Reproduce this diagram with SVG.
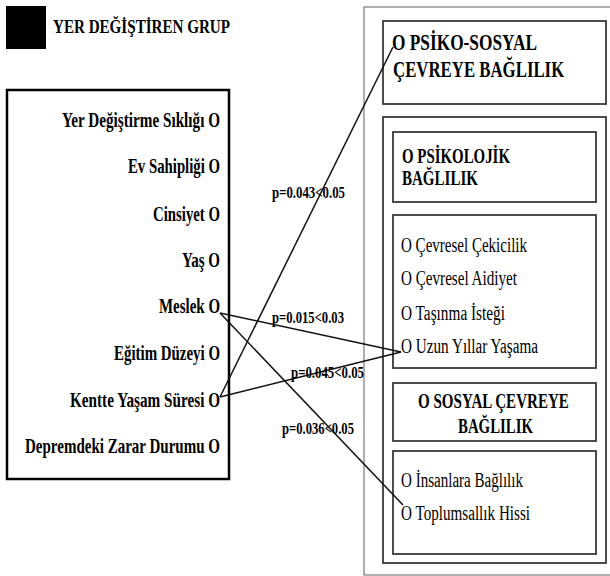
<svg xmlns="http://www.w3.org/2000/svg" width="610" height="576" viewBox="0 0 610 576">
<style>
text{font-family:"Liberation Serif","Times New Roman",serif;fill:#000}
.b{font-weight:bold}
.lbl{font-weight:bold;font-size:21px;text-anchor:end}
.item{font-size:20px}
.p{font-weight:bold;font-size:17px}
.box{fill:none;stroke:#3a3a3a;stroke-width:1.8}
.outer{fill:none;stroke:#7a7a7a;stroke-width:1.2}
.conn line{stroke:#111;stroke-width:1.5}
</style>
<rect width="610" height="576" fill="#fff"/>
<g id="legend">
<rect x="6" y="6" width="40" height="43" fill="#000"/>
<text class="b" x="53" y="33" font-size="19" textLength="177" lengthAdjust="spacingAndGlyphs">YER DEĞİŞTİREN GRUP</text>
</g>
<g id="group-variables">
<rect x="7" y="90" width="222" height="389" fill="none" stroke="#000" stroke-width="2.5"/>
<text class="lbl" x="220" y="127" textLength="158" lengthAdjust="spacingAndGlyphs">Yer Değiştirme Sıklığı O</text>
<text class="lbl" x="220" y="173" textLength="92" lengthAdjust="spacingAndGlyphs">Ev Sahipliği O</text>
<text class="lbl" x="220" y="221" textLength="67" lengthAdjust="spacingAndGlyphs">Cinsiyet O</text>
<text class="lbl" x="220" y="267" textLength="38" lengthAdjust="spacingAndGlyphs">Yaş O</text>
<text class="lbl" x="220" y="313" textLength="61" lengthAdjust="spacingAndGlyphs">Meslek O</text>
<text class="lbl" x="220" y="360" textLength="106" lengthAdjust="spacingAndGlyphs">Eğitim Düzeyi O</text>
<text class="lbl" x="220" y="407" textLength="150" lengthAdjust="spacingAndGlyphs">Kentte Yaşam Süresi O</text>
<text class="lbl" x="220" y="453" textLength="195" lengthAdjust="spacingAndGlyphs">Depremdeki Zarar Durumu O</text>
</g>
<g id="outer-frame">
<rect class="outer" x="364" y="7" width="260" height="568"/>
</g>
<g id="psiko-sosyal">
<rect class="box" x="383" y="21" width="223" height="83"/>
<text class="b" x="392" y="50" font-size="24" textLength="145" lengthAdjust="spacingAndGlyphs">O PSİKO-SOSYAL</text>
<g transform="translate(393,77) scale(0.70,1)"><text class="b" x="0" y="0" font-size="24">ÇEVREYE BAĞLILIK</text></g>
</g>
<g id="alt-boyutlar">
<rect class="box" x="383" y="117" width="223" height="446"/>
</g>
<g id="psikolojik">
<rect class="box" x="393" y="132" width="203" height="70"/>
<text class="b" x="402" y="163" font-size="20" textLength="108" lengthAdjust="spacingAndGlyphs">O PSİKOLOJİK</text>
<text class="b" x="402" y="185" font-size="20" textLength="76" lengthAdjust="spacingAndGlyphs">BAĞLILIK</text>
</g>
<g id="psikolojik-items">
<rect class="box" x="393" y="215" width="203" height="153"/>
<text class="item" x="401" y="252" textLength="126" lengthAdjust="spacingAndGlyphs">O Çevresel Çekicilik</text>
<text class="item" x="401" y="285" textLength="116" lengthAdjust="spacingAndGlyphs">O Çevresel Aidiyet</text>
<text class="item" x="401" y="320" textLength="104" lengthAdjust="spacingAndGlyphs">O Taşınma İsteği</text>
<text class="item" x="401" y="353" textLength="137" lengthAdjust="spacingAndGlyphs">O Uzun Yıllar Yaşama</text>
</g>
<g id="sosyal">
<rect class="box" x="393" y="383" width="203" height="58"/>
<g transform="translate(418,408) scale(0.717,1)"><text class="b" x="0" y="0" font-size="21">O SOSYAL ÇEVREYE</text></g>
<text class="b" x="458" y="433" font-size="21" textLength="75" lengthAdjust="spacingAndGlyphs">BAĞLILIK</text>
</g>
<g id="sosyal-items">
<rect class="box" x="393" y="451" width="203" height="103"/>
<text class="item" x="401" y="487" textLength="122" lengthAdjust="spacingAndGlyphs">O İnsanlara Bağlılık</text>
<text class="item" x="401" y="520" textLength="129" lengthAdjust="spacingAndGlyphs">O Toplumsallık Hissi</text>
</g>
<g id="connectors" class="conn">
<line x1="220" y1="397" x2="393" y2="47"/>
<line x1="220" y1="397" x2="401" y2="352"/>
<line x1="220" y1="313" x2="401" y2="352"/>
<line x1="220" y1="313" x2="403" y2="505"/>
</g>
<g id="p-values">
<text class="p" x="272" y="198" textLength="73" lengthAdjust="spacingAndGlyphs">p=0.043&lt;0.05</text>
<text class="p" x="272" y="323" textLength="72" lengthAdjust="spacingAndGlyphs">p=0.015&lt;0.03</text>
<text class="p" x="291" y="378" textLength="73" lengthAdjust="spacingAndGlyphs">p=0.045&lt;0.05</text>
<text class="p" x="282" y="434" textLength="72" lengthAdjust="spacingAndGlyphs">p=0.036&lt;0.05</text>
</g>
</svg>
